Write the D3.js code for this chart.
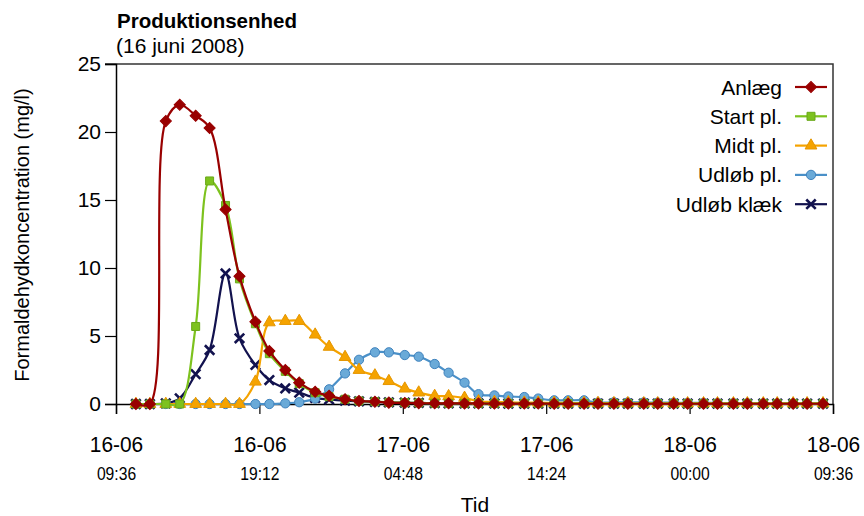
<!DOCTYPE html>
<html lang="da">
<head>
    <meta charset="UTF-8">
    <script src="https://cdn.jsdelivr.net/npm/d3@7"></script>
    <title>Produktionsenhed</title>
    <style>
        body { margin: 0; background: #fff; }
        text { font-family: "Liberation Sans", Arial, sans-serif; fill: #000; }
    </style>
</head>
<body>
</body>
<script>

    // measurement times (16-18 juni 2008)
    let times = [
        "2008-06-16 10:56", "2008-06-16 11:52", "2008-06-16 12:56", "2008-06-16 13:52",
        "2008-06-16 14:56", "2008-06-16 15:52", "2008-06-16 16:56", "2008-06-16 17:52",
        "2008-06-16 18:56", "2008-06-16 19:52", "2008-06-16 20:56", "2008-06-16 21:52",
        "2008-06-16 22:56", "2008-06-16 23:52", "2008-06-17 00:56", "2008-06-17 01:52",
        "2008-06-17 02:56", "2008-06-17 03:52", "2008-06-17 04:56", "2008-06-17 05:52",
        "2008-06-17 06:56", "2008-06-17 07:52", "2008-06-17 08:56", "2008-06-17 09:52",
        "2008-06-17 10:56", "2008-06-17 11:52", "2008-06-17 12:56", "2008-06-17 13:52",
        "2008-06-17 14:56", "2008-06-17 15:52", "2008-06-17 16:56", "2008-06-17 17:52",
        "2008-06-17 18:56", "2008-06-17 19:52", "2008-06-17 20:56", "2008-06-17 21:52",
        "2008-06-17 22:56", "2008-06-17 23:52", "2008-06-18 00:56", "2008-06-18 01:52",
        "2008-06-18 02:56", "2008-06-18 03:52", "2008-06-18 04:56", "2008-06-18 05:52",
        "2008-06-18 06:56", "2008-06-18 07:52", "2008-06-18 08:56"
    ];

    let anlaeg = [0, 0, 20.8, 22.0, 21.2, 20.3, 14.3, 9.4, 6.05, 3.9, 2.5, 1.57,
        0.9, 0.6, 0.35, 0.22, 0.17, 0.1, 0.08, 0.06, 0.05, 0.05, 0.04, 0.04,
        0.03, 0.03, 0.03, 0.03, 0.02, 0.02, 0.02, 0.02, 0.02, 0.02, 0.02, 0.02,
        0.02, 0.02, 0.02, 0.02, 0.02, 0.02, 0.02, 0.02, 0.02, 0.02, 0.02];

    let startPl = [0, 0, 0, 0, 5.7, 16.4, 14.6, 9.2, 5.9, 3.7, 2.4, 1.5,
        0.83, 0.54, 0.35, 0.22, 0.17, 0.12, 0.1, 0.08, 0.06, 0.05, 0.05, 0.04,
        0.04, 0.04, 0.03, 0.03, 0.03, 0.03, 0.03, 0.03, 0.03, 0.03, 0.03, 0.03,
        0.03, 0.03, 0.03, 0.03, 0.03, 0.03, 0.03, 0.03, 0.03, 0.03, 0.03];

    let midtPl = [0, 0, 0, 0, 0, 0, 0, 0, 1.64, 6.0, 6.1, 6.1,
        5.1, 4.2, 3.45, 2.5, 2.1, 1.68, 1.13, 0.84, 0.59, 0.57, 0.45, 0.2,
        0.15, 0.12, 0.1, 0.1, 0.08, 0.08, 0.07, 0.07, 0.06, 0.06, 0.05, 0.05,
        0.05, 0.05, 0.05, 0.05, 0.05, 0.05, 0.05, 0.05, 0.05, 0.05, 0.05];

    let udloebPl = [0, 0, 0, 0, 0, 0, 0, 0, 0, 0, 0.05, 0.13,
        0.4, 1.08, 2.25, 3.25, 3.8, 3.8, 3.6, 3.48, 2.94, 2.3, 1.57, 0.72,
        0.63, 0.55, 0.51, 0.4, 0.27, 0.27, 0.27, 0.1, 0.13, 0.12, 0.12, 0.1,
        0.1, 0.08, 0.08, 0.07, 0.06, 0.06, 0.05, 0.05, 0.05, 0.05, 0.05];

    let udloebKlaek = [0, 0, 0.05, 0.42, 2.2, 3.97, 9.6, 4.83, 2.87, 1.76, 1.15, 0.84,
        0.45, 0.34, 0.25, 0.2, 0.15, 0.12, 0.1, 0.08, 0.06, 0.05, 0.05, 0.04,
        0.04, 0.03, 0.03, 0.03, 0.03, 0.03, 0.03, 0.03, 0.03, 0.03, 0.03, 0.03,
        0.03, 0.03, 0.03, 0.03, 0.03, 0.03, 0.03, 0.03, 0.03, 0.03, 0.03];

    let seriesNames = ["Anlæg", "Start pl.", "Midt pl.", "Udløb pl.", "Udløb klæk"];

    let xTickValues = ["2008-06-16 09:36", "2008-06-16 19:12", "2008-06-17 04:48",
        "2008-06-17 14:24", "2008-06-18 00:00", "2008-06-18 09:36"];
    let yTickValues = [0, 5, 10, 15, 20, 25];

    let width = 864,
        height = 516,
        plotLeft = 116,
        plotRight = 833,
        plotTop = 64,
        plotBottom = 404;

    let parse = d3.timeParse("%Y-%m-%d %H:%M");
    let dates = times.map(parse);
    let xTicks = xTickValues.map(parse);

    let x = d3.scaleTime()
        .domain([xTicks[0], xTicks[xTicks.length - 1]])
        .range([plotLeft, plotRight]);
    let y = d3.scaleLinear()
        .domain([0, 25])
        .range([plotBottom, plotTop]);

    let styles = [
        {color: "#990000", fill: "#990000", stroke: "#990000", shape: "diamond"},
        {color: "#7dc21e", fill: "#7dc21e", stroke: "#6aa819", shape: "square"},
        {color: "#f5a300", fill: "#f5a300", stroke: "#e59600", shape: "triangle"},
        {color: "#4a90c8", fill: "#6aaad8", stroke: "#3f82bd", shape: "circle"},
        {color: "#12124e", fill: "none", stroke: "#12124e", shape: "x"}
    ];
    let values = [anlaeg, startPl, midtPl, udloebPl, udloebKlaek];

    let series = seriesNames.map((name, i) => ({
        name: name,
        style: styles[i],
        points: dates.map((d, j) => ({t: d, v: values[i][j]}))
    }));

    let svg = d3.select("body")
        .append("svg")
        .attr("width", width)
        .attr("height", height);

    // title
    svg.append("text")
        .attr("x", 117).attr("y", 28)
        .style("font-size", "20.5px").style("font-weight", "bold")
        .text("Produktionsenhed");
    svg.append("text")
        .attr("x", 116).attr("y", 53)
        .style("font-size", "21px")
        .text("(16 juni 2008)");

    // frame
    svg.append("path")
        .attr("d", `M${plotLeft - 11},${plotTop}H${plotRight}V${plotBottom}`)
        .attr("fill", "none")
        .attr("stroke", "#333")
        .attr("stroke-width", 1.5);

    // y axis
    let yAxis = svg.append("g")
        .attr("transform", `translate(${plotLeft},0)`)
        .call(d3.axisLeft(y).tickValues(yTickValues).tickSize(11).tickPadding(4));
    yAxis.select(".domain").attr("stroke", "#000").attr("stroke-width", 1.5);
    yAxis.selectAll(".tick line").attr("stroke-width", 1.2);
    yAxis.selectAll(".tick text")
        .style("font-size", "21px")
        .style("font-family", "Liberation Sans, Arial, sans-serif");

    // x axis
    let fmtDay = d3.timeFormat("%d-%m"),
        fmtTime = d3.timeFormat("%H:%M");
    let xAxis = svg.append("g")
        .attr("transform", `translate(0,${plotBottom})`)
        .call(d3.axisBottom(x).tickValues(xTicks).tickSize(10).tickFormat(""));
    xAxis.select(".domain").attr("stroke", "#000").attr("stroke-width", 1.5);
    xAxis.selectAll(".tick line").attr("stroke-width", 1.2);
    xAxis.selectAll(".tick").each(function (d) {
        let g = d3.select(this);
        g.append("text")
            .attr("y", 48).attr("text-anchor", "middle")
            .style("font-size", "22px")
            .attr("transform", "scale(0.95,1)")
            .text(fmtDay(d));
        g.append("text")
            .attr("y", 76).attr("text-anchor", "middle")
            .style("font-size", "18px")
            .attr("transform", "scale(0.87,1)")
            .text(fmtTime(d));
    });

    svg.append("text")
        .attr("x", 475).attr("y", 512)
        .attr("text-anchor", "middle")
        .style("font-size", "21px")
        .text("Tid");

    svg.append("text")
        .attr("transform", `translate(29,${(plotTop + plotBottom) / 2 + 1}) rotate(-90)`)
        .attr("text-anchor", "middle")
        .style("font-size", "20px")
        .text("Formaldehydkoncentration (mg/l)");

    // markers
    function markerPath(shape) {
        if (shape === "diamond") return d3.symbol().type(d3.symbolSquare).size(62)();
        if (shape === "square") return d3.symbol().type(d3.symbolSquare).size(64)();
        if (shape === "triangle") return d3.symbol().type(d3.symbolTriangle).size(60)();
        if (shape === "circle") return d3.symbol().type(d3.symbolCircle).size(68)();
        return d3.symbol().type(d3.symbolTimes).size(60)();
    }

    function drawMarker(sel, st) {
        sel.append("path")
            .attr("d", markerPath(st.shape))
            .attr("transform", st.shape === "diamond" ? "rotate(45)" : null)
            .attr("fill", st.fill)
            .attr("stroke", st.stroke)
            .attr("stroke-width", st.shape === "x" ? 2.6 : 1);
    }

    let line = d3.line()
        .x(d => x(d.t))
        .y(d => y(d.v))
        .curve(d3.curveCatmullRom.alpha(0.5));

    // draw bottom series first so Anlæg ends on top
    let drawOrder = series.slice().reverse();

    drawOrder.forEach(s => {
        let g = svg.append("g");
        g.append("path")
            .datum(s.points)
            .attr("d", line)
            .attr("fill", "none")
            .attr("stroke", s.style.color)
            .attr("stroke-width", 2.2);
        g.selectAll("g.pt")
            .data(s.points)
            .enter()
            .append("g")
            .attr("class", "pt")
            .attr("transform", d => `translate(${x(d.t)},${y(d.v)})`)
            .each(function () {
                drawMarker(d3.select(this), s.style);
            });
    });

    // legend
    let legend = svg.append("g");
    series.forEach((s, i) => {
        let cy = 87 + i * 29.3;
        legend.append("text")
            .attr("x", 782).attr("y", cy + 7.5)
            .attr("text-anchor", "end")
            .style("font-size", "21px")
            .text(s.name);
        legend.append("line")
            .attr("x1", 795).attr("x2", 827)
            .attr("y1", cy).attr("y2", cy)
            .attr("stroke", s.style.color)
            .attr("stroke-width", 2.2);
        let m = legend.append("g").attr("transform", `translate(811,${cy})`);
        drawMarker(m, s.style);
    });

</script>
</html>
